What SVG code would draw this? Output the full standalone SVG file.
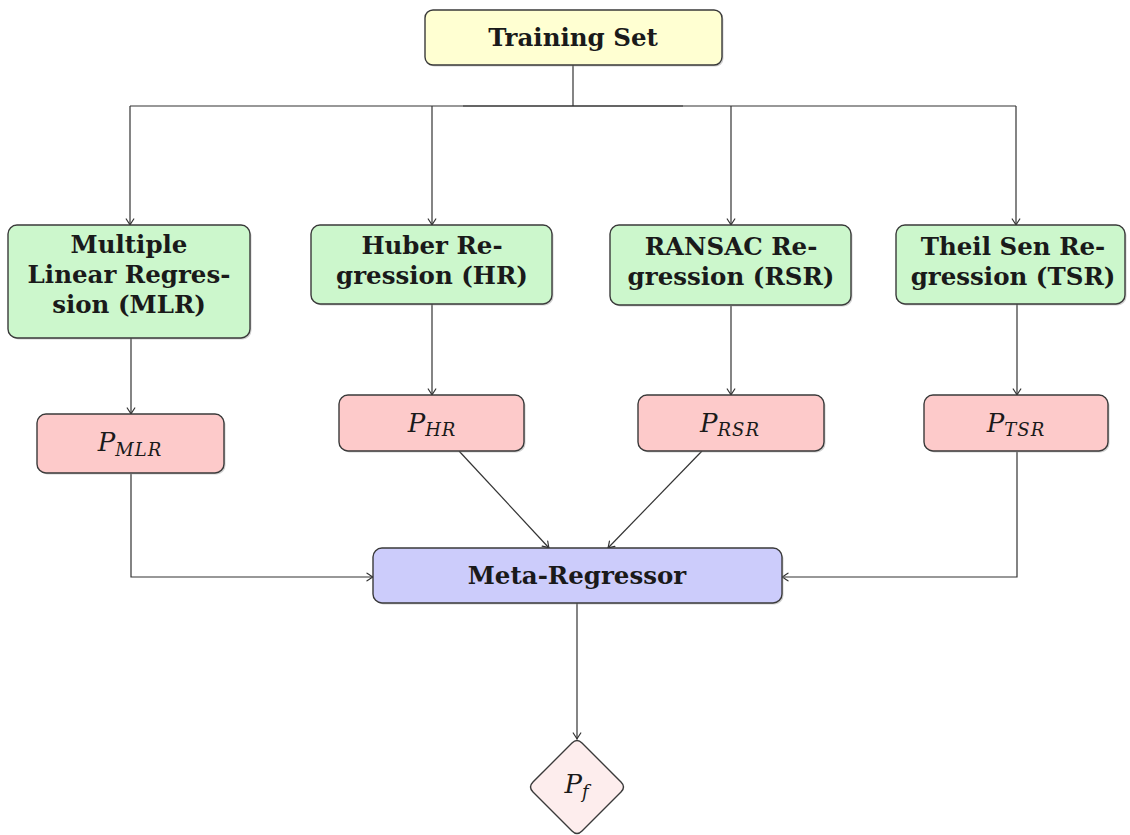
<svg xmlns="http://www.w3.org/2000/svg" width="1130" height="835" viewBox="0 0 1130 835">
<defs>
<marker id="arr" viewBox="-8 -5 10 10" refX="0" refY="0" markerWidth="10" markerHeight="10" markerUnits="userSpaceOnUse" orient="auto">
<path d="M -6,-3.8 Q -1.5,-0.8 0,0 Q -1.5,0.8 -6,3.8" fill="none" stroke="#333" stroke-width="1.2" stroke-linecap="round"/>
</marker>
</defs>
<style>
.box{stroke:#3a3a3a;stroke-width:1.4}
.shadow{fill:#9a9a9a;opacity:0.45}
.yel{fill:#ffffd2}
.grn{fill:#ccf7cc}
.red{fill:#fdcaca}
.blu{fill:#ccccfb}
.pnk{fill:#fdeded}
.t{font-family:"DejaVu Serif","Liberation Serif",serif;font-weight:bold;font-size:24.5px;fill:#1a1a1a;text-anchor:middle}
.m{font-family:"DejaVu Serif","Liberation Serif",serif;font-style:italic;font-size:26px;fill:#1a1a1a;text-anchor:middle}
.sub{font-size:18px;letter-spacing:1px}
.c{fill:none;stroke:#333;stroke-width:1.2}
</style>

<g id="connectors">
<line class="c" x1="573" y1="65" x2="573" y2="106" stroke-width="2.4"/>
<line class="c" x1="130" y1="106" x2="1016" y2="106"/>
<line class="c" x1="463" y1="106" x2="683" y2="106" stroke-width="2.4"/>
<line class="c" x1="130" y1="106" x2="130" y2="225" marker-end="url(#arr)"/>
<line class="c" x1="432" y1="106" x2="432" y2="225" marker-end="url(#arr)"/>
<line class="c" x1="731" y1="106" x2="731" y2="225" marker-end="url(#arr)"/>
<line class="c" x1="1016" y1="106" x2="1016" y2="225" marker-end="url(#arr)"/>
<line class="c" x1="131" y1="338" x2="131" y2="414" marker-end="url(#arr)"/>
<line class="c" x1="432" y1="304" x2="432" y2="395" marker-end="url(#arr)"/>
<line class="c" x1="731" y1="306" x2="731" y2="395" marker-end="url(#arr)"/>
<line class="c" x1="1017" y1="304" x2="1017" y2="395" marker-end="url(#arr)"/>
<polyline class="c" points="131,474 131,577 373,577" marker-end="url(#arr)"/>
<line class="c" x1="459" y1="451" x2="549" y2="548" marker-end="url(#arr)"/>
<line class="c" x1="702" y1="451" x2="608" y2="548" marker-end="url(#arr)"/>
<polyline class="c" points="1017,452 1017,577 782,577" marker-end="url(#arr)"/>
<line class="c" x1="577" y1="603" x2="577" y2="739" marker-end="url(#arr)"/>
</g>

<g id="training-set">
<rect class="shadow" x="426.5" y="11.5" width="297" height="55" rx="8"/>
<rect class="box yel" x="425" y="10" width="297" height="55" rx="8"/>
<text class="t" x="573" y="46">Training Set</text>
</g>

<g id="mlr">
<rect class="shadow" x="9.5" y="226.5" width="242" height="113" rx="9"/>
<rect class="box grn" x="8" y="225" width="242" height="113" rx="9"/>
<text class="t" x="129" y="253">Multiple</text>
<text class="t" x="129" y="283">Linear Regres-</text>
<text class="t" x="129" y="313">sion (MLR)</text>
</g>

<g id="hr">
<rect class="shadow" x="312.5" y="226.5" width="241" height="79" rx="9"/>
<rect class="box grn" x="311" y="225" width="241" height="79" rx="9"/>
<text class="t" x="432" y="254">Huber Re-</text>
<text class="t" x="432" y="284">gression (HR)</text>
</g>

<g id="rsr">
<rect class="shadow" x="611.5" y="226.5" width="241" height="80" rx="9"/>
<rect class="box grn" x="610" y="225" width="241" height="80" rx="9"/>
<text class="t" x="731" y="255">RANSAC Re-</text>
<text class="t" x="731" y="285">gression (RSR)</text>
</g>

<g id="tsr">
<rect class="shadow" x="897.5" y="226.5" width="229" height="79" rx="9"/>
<rect class="box grn" x="896" y="225" width="229" height="79" rx="9"/>
<text class="t" x="1013" y="255">Theil Sen Re-</text>
<text class="t" x="1013" y="285">gression (TSR)</text>
</g>

<g id="p-mlr">
<rect class="shadow" x="38.5" y="415.5" width="187" height="59" rx="9"/>
<rect class="box red" x="37" y="414" width="187" height="59" rx="9"/>
<text class="m" x="130" y="451">P<tspan class="sub" dy="5">MLR</tspan></text>
</g>

<g id="p-hr">
<rect class="shadow" x="340.5" y="396.5" width="185" height="56" rx="9"/>
<rect class="box red" x="339" y="395" width="185" height="56" rx="9"/>
<text class="m" x="432" y="432">P<tspan class="sub" dy="4">HR</tspan></text>
</g>

<g id="p-rsr">
<rect class="shadow" x="639.5" y="396.5" width="186" height="56" rx="9"/>
<rect class="box red" x="638" y="395" width="186" height="56" rx="9"/>
<text class="m" x="730" y="432">P<tspan class="sub" dy="4">RSR</tspan></text>
</g>

<g id="p-tsr">
<rect class="shadow" x="925.5" y="396.5" width="184" height="56" rx="9"/>
<rect class="box red" x="924" y="395" width="184" height="56" rx="9"/>
<text class="m" x="1016" y="432">P<tspan class="sub" dy="4">TSR</tspan></text>
</g>

<g id="meta-regressor">
<rect class="shadow" x="374.5" y="549.5" width="409" height="55" rx="9"/>
<rect class="box blu" x="373" y="548" width="409" height="55" rx="9"/>
<text class="t" x="577" y="584">Meta-Regressor</text>
</g>

<g id="pf">
<path class="box pnk" d="M 572,743 Q 577,738 582,743 L 621,782 Q 626,787 621,792 L 582,831 Q 577,836 572,831 L 533,792 Q 528,787 533,782 Z"/>
<text class="m" x="577" y="793">P<tspan class="sub" dy="5">f</tspan></text>
</g>
</svg>
